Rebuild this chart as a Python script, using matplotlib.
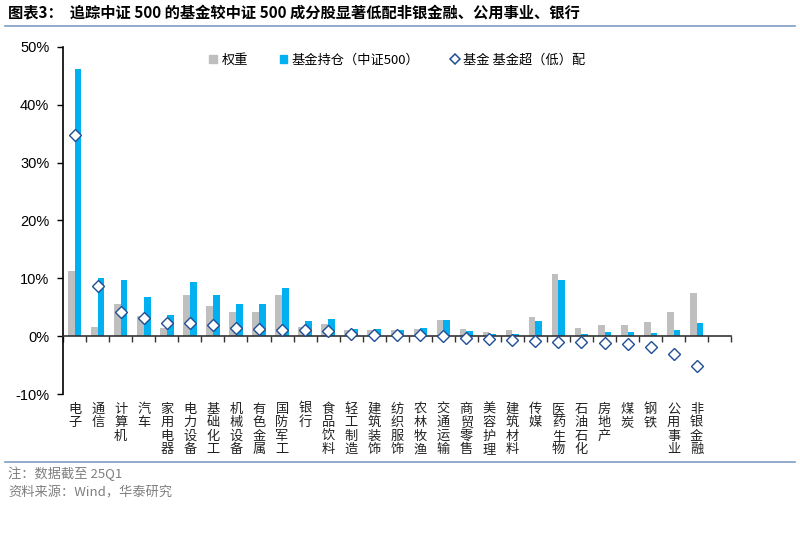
import matplotlib
matplotlib.use("Agg")
import matplotlib.pyplot as plt
import matplotlib.transforms as mtransforms
from matplotlib.lines import Line2D
from matplotlib.patches import Patch
import numpy as np

plt.rcParams['font.family'] = ['Noto Sans CJK SC', 'DejaVu Sans']

# 行业
industries = ["电子", "通信", "计算机", "汽车", "家用电器", "电力设备", "基础化工",
              "机械设备", "有色金属", "国防军工", "银行", "食品饮料", "轻工制造",
              "建筑装饰", "纺织服饰", "农林牧渔", "交通运输", "商贸零售", "美容护理",
              "建筑材料", "传媒", "医药生物", "石油石化", "房地产", "煤炭", "钢铁",
              "公用事业", "非银金融"]
# 中证500 权重 (%)
weight = [11.3, 1.5, 5.5, 3.5, 1.4, 7.2, 5.3, 4.1, 4.2, 7.2, 1.5, 2.1, 1.0,
          1.1, 1.0, 1.3, 2.85, 1.25, 0.8, 1.0, 3.3, 10.7, 1.45, 1.9, 2.0, 2.4,
          4.2, 7.5]
# 基金持仓 (%)
holding = [46.1, 10.1, 9.7, 6.8, 3.6, 9.4, 7.2, 5.5, 5.5, 8.3, 2.6, 3.05, 1.3,
           1.3, 1.15, 1.45, 2.85, 0.9, 0.35, 0.3, 2.55, 9.7, 0.4, 0.65, 0.65, 0.6,
           1.1, 2.3]
# 超（低）配 (%)
excess = [34.7, 8.6, 4.2, 3.2, 2.2, 2.2, 1.9, 1.4, 1.3, 1.1, 1.1, 0.95, 0.3,
          0.2, 0.15, 0.15, 0.0, -0.35, -0.45, -0.7, -0.75, -1.0, -1.05, -1.25,
          -1.35, -1.8, -3.1, -5.2]

c_gray = "#BFBFBF"
c_blue = "#00B0F0"
c_dia = "#1F4E96"

fig = plt.figure(figsize=(8, 5.45), dpi=100)
ax = fig.add_axes([0.079, 0.277, 0.835, 0.637])

x = np.arange(len(industries))
w = 0.29
ax.bar(x - w / 2, weight, w, color=c_gray, zorder=2)
ax.bar(x + w / 2, holding, w, color=c_blue, zorder=2)
ax.plot(x, excess, linestyle="none", marker="D", ms=6, mfc="white",
        mec=c_dia, mew=1.0, zorder=3)

ax.set_xlim(-0.5, len(industries) + 0.5)
ax.set_ylim(-10, 50)
ax.set_yticks(range(-10, 51, 10))
ax.set_yticklabels([f"{v}%" for v in range(-10, 51, 10)],
                   family=["Liberation Sans"], fontsize=10.5)
ax.tick_params(axis="y", direction="out", length=4, width=1, pad=6)

for s in ["top", "right"]:
    ax.spines[s].set_visible(False)
ax.spines["left"].set_linewidth(1.2)
ax.spines["bottom"].set_position(("data", 0))
ax.spines["bottom"].set_linewidth(1.2)
ax.spines["bottom"].set_color("#333333")
ax.set_xticks(np.arange(-0.5, len(industries) + 1, 1))
ax.set_xticklabels([])
ax.tick_params(axis="x", direction="out", length=4, width=1, color="#333333")

trans = mtransforms.blended_transform_factory(ax.transData, ax.transAxes)
for xi, name in zip(x, industries):
    ax.text(xi, -0.025, "\n".join(name), transform=trans, ha="center", va="top",
            fontsize=9.5, linespacing=1.05, color="#222222")

handles = [Patch(color=c_gray, label="权重"),
           Patch(color=c_blue, label="基金持仓（中证500）"),
           Line2D([], [], linestyle="none", marker="D", ms=5, mfc="white",
                  mec=c_dia, mew=1.1, label="基金 基金超（低）配")]
ax.legend(handles=handles, loc="upper center", bbox_to_anchor=(0.5, 1.015),
          ncol=3, frameon=False, fontsize=9.5, handlelength=0.6, handleheight=0.6,
          handletextpad=0.3, columnspacing=2.4)

# 标题与注释
fig.text(0.01, 0.975, "图表3：  追踪中证 500 的基金较中证 500 成分股显著低配非银金融、公用事业、银行",
         fontsize=11, fontweight="bold", ha="left", va="center")
fig.add_artist(Line2D([0.006, 0.994], [0.952, 0.952], color="#7F9CC4", lw=1.2))
fig.add_artist(Line2D([0.006, 0.994], [0.153, 0.153], color="#7F9CC4", lw=1.2))
fig.text(0.01, 0.130, "注：数据截至 25Q1", fontsize=9.5, color="#7F7F7F",
         ha="left", va="center")
fig.text(0.01, 0.095, "资料来源：Wind，华泰研究", fontsize=9.5, color="#7F7F7F",
         ha="left", va="center")

fig.savefig("out.png", dpi=100)
